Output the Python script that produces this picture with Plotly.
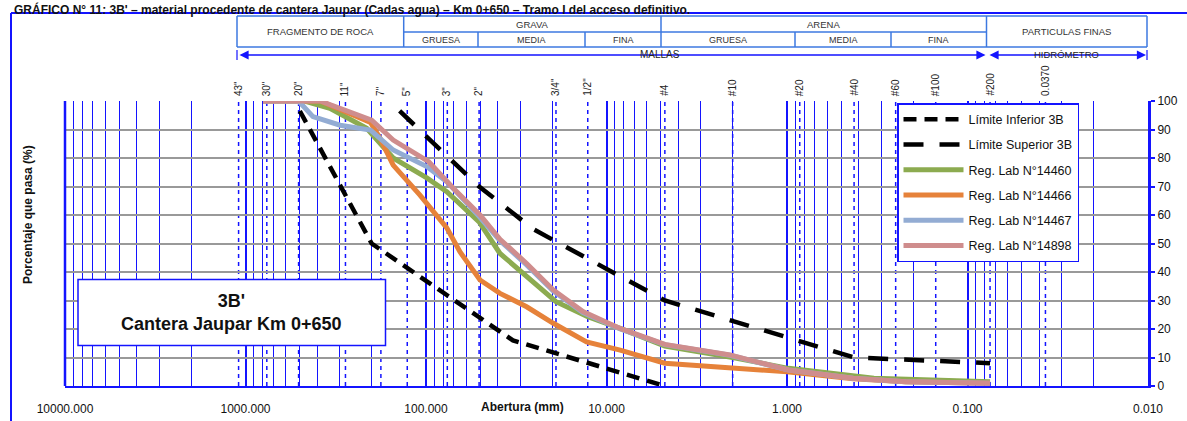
import math
import plotly.graph_objects as go

# ---------------- data ----------------
# sieve openings (mm) and the names printed above the chart
sieve_labels = ['43"', '30"', '20"', '11"', '7"', '5"', '3"', '2"', '3/4"', '1/2"',
                '#4', '#10', '#20', '#40', '#60', '#100', '#200', '0.0370']
sieve_mm = [1092.2, 762.0, 508.0, 279.4, 177.8, 127.0, 76.2, 50.8, 19.05, 12.7,
            4.75, 2.0, 0.85, 0.425, 0.25, 0.15, 0.075, 0.037]

# gradation band 3B
inf_mm = [500, 200, 33, 4.75]
inf_pct = [96.5, 50, 16, 0]
sup_mm = [140, 50.8, 25.4, 4.75, 0.425, 0.075]
sup_pct = [96.5, 70, 55, 30, 10, 8]

# laboratory results
lab14460_mm = [800, 470, 341, 213, 152, 99, 76.7, 50.8, 38.9, 19.05, 12.7, 8.4, 4.75, 2.0, 0.98, 0.33, 0.075]
lab14460_pct = [100, 100, 97.4, 90.4, 80, 73, 68.2, 57.6, 46.5, 29.6, 24.3, 20.2, 14, 10, 6.2, 2.7, 1.5]

lab14466_mm = [800, 386, 203, 180, 152, 108, 76.7, 64.9, 50.2, 38.9, 27.7, 19.7, 12.9, 8.4, 4.75, 1.82, 1.0, 0.43, 0.22, 0.075]
lab14466_pct = [100, 100, 92.5, 87, 77.5, 67, 55.5, 47.1, 37.2, 32.5, 27.8, 22, 15.5, 12.6, 8, 6.2, 5, 2.5, 1.5, 1]

lab14467_mm = [800, 508, 423, 299, 203, 152, 99, 76.7, 50.8, 38.9, 27.7, 19.7, 13.5, 8.4, 4.75, 2.07, 0.98, 0.43, 0.22, 0.075]
lab14467_pct = [100, 100, 94.5, 91.5, 89.8, 82.8, 77, 71.7, 59.5, 51, 42.5, 33.3, 25.8, 20, 14.5, 10.8, 5.6, 2.7, 1.5, 1]

lab14898_mm = [800, 386, 200, 152, 96.6, 70.6, 50.2, 38.9, 27.7, 19.7, 13.5, 8.4, 4.75, 2.07, 0.98, 0.43, 0.22, 0.075]
lab14898_pct = [100, 100, 93.3, 86.3, 78.7, 69.4, 60, 51.5, 43, 33.7, 26.1, 20.2, 14.6, 10.9, 5.6, 2.7, 1.5, 1]

# ---------------- figure ----------------
W, H = 1187, 421
L, R, T, B = 65, 1148, 101, 386   # plot area in pixels

def px(x):
    return (x - L) / (R - L)

def py(y):
    return (B - y) / (B - T)

FONT = "Arial, 'Liberation Sans', sans-serif"
BLUE = '#1414ff'
CELL = '#3d78e0'

fig = go.Figure()

series = [
    ("Límite Inferior 3B", inf_mm, inf_pct, 'black', 4.5, '13px,8px'),
    ("Límite Superior 3B", sup_mm, sup_pct, 'black', 4.5, '20px,16px'),
    ("Reg. Lab N°14460", lab14460_mm, lab14460_pct, '#8cab50', 5, 'solid'),
    ("Reg. Lab N°14466", lab14466_mm, lab14466_pct, '#e6823a', 5, 'solid'),
    ("Reg. Lab N°14467", lab14467_mm, lab14467_pct, '#93acd3', 5, 'solid'),
    ("Reg. Lab N°14898", lab14898_mm, lab14898_pct, '#cf8d8d', 5, 'solid'),
]
for name, xs, ys, col, w, dash in series:
    fig.add_trace(go.Scatter(
        x=xs, y=ys, mode='lines', name=name, legendgroup=name,
        line=dict(color=col, width=w, dash=dash),
        hoverinfo='skip'))

# minor vertical grid: 2..9 in every decade
minor_vals = [m * 10 ** e for e in range(-2, 4) for m in range(2, 10)]

fig.update_xaxes(
    type='log', range=[4, -2], dtick=1, tickformat='.3f',
    showgrid=True, gridcolor=BLUE, gridwidth=1.6,
    minor=dict(tickmode='array', tickvals=minor_vals, showgrid=True,
               gridcolor=BLUE, gridwidth=1.4, ticks=''),
    showline=True, linecolor=BLUE, linewidth=1.5,
    ticks='outside', ticklen=11, tickcolor='rgba(0,0,0,0)',
    tickfont=dict(family=FONT, size=12, color='#111'),
    zeroline=False, automargin=False)

fig.update_yaxes(
    range=[0, 100], dtick=10, side='right',
    showgrid=True, gridcolor='#999999', gridwidth=1.5,
    showline=True, linecolor=BLUE, linewidth=3,
    ticks='outside', ticklen=4, tickwidth=2, tickcolor=BLUE,
    tickfont=dict(family=FONT, size=12, color='#111'),
    zeroline=False, automargin=False)

shapes = []
# dashed verticals at each sieve
for mm in sieve_mm:
    shapes.append(dict(type='line', xref='x', yref='paper', x0=mm, x1=mm, y0=0, y1=1,
                       line=dict(color=BLUE, width=1.5, dash='4px,4px'), layer='below'))
# left edge of the plot
shapes.append(dict(type='line', xref='paper', yref='paper', x0=0, x1=0, y0=0, y1=1,
                   line=dict(color=BLUE, width=2.5)))
# outer frame
shapes.append(dict(type='line', xref='paper', yref='paper', x0=px(11), x1=px(11), y0=py(421), y1=py(13),
                   line=dict(color=BLUE, width=2)))
shapes.append(dict(type='line', xref='paper', yref='paper', x0=px(11), x1=px(1187), y0=py(13), y1=py(13),
                   line=dict(color=BLUE, width=2)))

# soil classification header table
top_y, mid_y, bot_y = 16, 32, 47
cols_full = [237, 403.7, 661, 986.5, 1147]
cols_sub = [478, 585, 795, 891]

def hline(x0, x1, y):
    shapes.append(dict(type='line', xref='paper', yref='paper', x0=px(x0), x1=px(x1), y0=py(y), y1=py(y),
                       line=dict(color=CELL, width=1.5)))

def vline(x, y0, y1, color=CELL, width=1.5):
    shapes.append(dict(type='line', xref='paper', yref='paper', x0=px(x), x1=px(x), y0=py(y0), y1=py(y1),
                       line=dict(color=color, width=width)))

hline(237, 1147, top_y)
hline(237, 1147, bot_y)
hline(403.7, 986.5, mid_y)
for c in cols_full:
    vline(c, top_y, bot_y)
for c in cols_sub:
    vline(c, mid_y, bot_y)
# end bars of the MALLAS / HIDROMETRO arrows
vline(237, 50, 60, BLUE, 1.2)
vline(1147, 50, 60, BLUE, 1.2)

# label box
shapes.append(dict(type='rect', xref='paper', yref='paper',
                   x0=px(78), x1=px(385.5), y0=py(345.5), y1=py(279.5),
                   fillcolor='white', line=dict(color=BLUE, width=1.5), layer='above'))

annotations = []

def text(x, y, s, size=9.5, bold=False, color='#333', angle=0, xanchor='center', yanchor='middle'):
    annotations.append(dict(xref='paper', yref='paper', x=px(x), y=py(y), text=(f'<b>{s}</b>' if bold else s),
                            showarrow=False, textangle=angle, xanchor=xanchor, yanchor=yanchor,
                            font=dict(family=FONT, size=size, color=color)))

text(320, 31.5, 'FRAGMENTO DE ROCA')
text(532, 24.5, 'GRAVA')
text(823.5, 24.5, 'ARENA')
text(1066.5, 31.5, 'PARTICULAS FINAS')
text(441, 40, 'GRUESA', 9)
text(531.5, 40, 'MEDIA', 9)
text(623, 40, 'FINA', 9)
text(728, 40, 'GRUESA', 9)
text(843, 40, 'MEDIA', 9)
text(938.5, 40, 'FINA', 9)

# double-headed arrows (tail offset given in pixels)
def arrow(x_from, x_to, y):
    annotations.append(dict(xref='paper', yref='paper', axref='pixel', ayref='pixel',
                            x=px(x_to), y=py(y), ax=x_from - x_to, ay=0, text='',
                            showarrow=True, arrowhead=2, arrowsize=1.4, arrowwidth=1.3,
                            arrowcolor=BLUE, arrowside='end+start', startarrowhead=2,
                            startarrowsize=1.4))

arrow(238, 985.5, 55)
arrow(988, 1146, 55)
text(660, 55, 'MALLAS', 10, color='#222')
text(1066, 55, 'HIDRÓMETRO', 9.5, color='#222')

# sieve names
for lab, mm in zip(sieve_labels, sieve_mm):
    annotations.append(dict(xref='x', yref='paper', x=math.log10(mm), y=py(98), text=lab,
                            showarrow=False, textangle=-90, xanchor='center', yanchor='bottom',
                            font=dict(family=FONT, size=10, color='#222')))

# axis titles
text(28, 215, 'Porcentaje que pasa (%)', 12, True, '#111', -90)
text(522, 407, 'Abertura (mm)', 12, True, '#111')

# boxed sample description
annotations.append(dict(xref='paper', yref='paper', x=px(231.5), y=py(312.5),
                        xanchor='center', yanchor='middle',
                        text="<b>3B'</b><br><b>Cantera Jaupar Km 0+650</b>",
                        showarrow=False, align='center',
                        font=dict(family=FONT, size=18, color='#111')))

# chart caption along the top edge
annotations.append(dict(xref='paper', yref='paper', x=px(12), y=py(0),
                        xanchor='left', yanchor='top',
                        text="<b>GRÁFICO N° 11: 3B' – material procedente de cantera Jaupar (Cadas agua) – Km 0+650 – Tramo I del acceso definitivo.</b>",
                        showarrow=False, font=dict(family=FONT, size=12, color='#111')))

fig.update_layout(
    width=W, height=H,
    margin=dict(l=L, r=W - R, t=T, b=H - B, pad=0, autoexpand=False),
    paper_bgcolor='white', plot_bgcolor='white',
    font=dict(family=FONT, size=12, color='#111'),
    shapes=shapes, annotations=annotations,
    showlegend=True,
    legend=dict(x=px(897), y=py(103), xanchor='left', yanchor='top',
                bgcolor='white', bordercolor=BLUE, borderwidth=1.5,
                font=dict(family=FONT, size=12.5, color='#111'),
                itemwidth=60, tracegroupgap=6),
)

fig.write_html("out.html")
